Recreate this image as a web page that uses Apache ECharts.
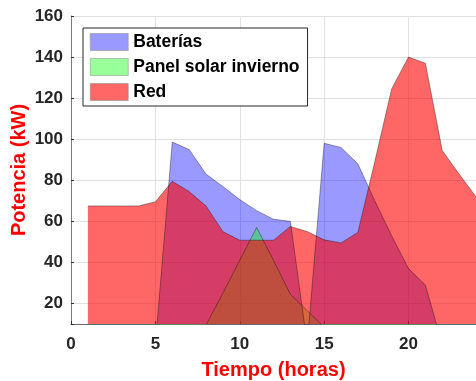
<!DOCTYPE html>
<html>
<head>
<meta charset="utf-8">
<script src="https://cdn.jsdelivr.net/npm/echarts@6/dist/echarts.min.js"></script>
<style>
html,body{margin:0;padding:0;background:#fff;}
#c{width:476px;height:381px;}
</style>
</head>
<body>
<div id="c"></div>
<script>
// Hours (x values)
const hours = [1,2,3,4,5,6,7,8,9,10,11,12,13,14,15,16,17,18,19,20,21,22,23,24];
// Series values (kW)
const baterias = [0,0,0,0,0,98.6,95,83,77,70.6,65.2,61,60,0,98,96,88,70,53,37,29,0,0,0];
const panelSolar = [0,0,0,0,0,0,0,9.5,25,41,57,41,24.5,16.5,8.5,0,0,0,0,0,0,0,0,0];
const red = [67.5,67.5,67.5,67.5,69.5,79.5,74.5,67.5,55,50.8,50.8,50.8,57.5,55,51,49.5,54.6,89,124.5,140,137,94.5,83,72];
const seriesNames = ['Baterías','Panel solar invierno','Red'];
const xTicks = [0,5,10,15,20];
const yTicks = [20,40,60,80,100,120,140,160];

const pairs = arr => hours.map((h,i)=>[h,arr[i]]);
const edge = {color:'rgba(0,0,0,0.45)', width:0.8};
const chart = echarts.init(document.getElementById('c'), null, {renderer:'canvas'});
const mk = (name, data, fill, legendColor) => ({
  name, type:'line', data: pairs(data), symbol:'none', showSymbol:false,
  lineStyle: edge, itemStyle:{color:legendColor},
  areaStyle:{color:fill, opacity:1}, clip:true, animation:false
});
chart.setOption({
  animation:false,
  grid:{left:71, right:0, top:16, bottom:57, containLabel:false, outerBoundsMode:'none'},
  legend:{
    orient:'vertical', left:83, top:28, icon:'rect',
    itemWidth:38, itemHeight:17, itemGap:7,
    padding:[5,8,5,7],
    backgroundColor:'#fff', borderColor:'#262626', borderWidth:1,
    textStyle:{fontFamily:'Liberation Sans, Arial, sans-serif', fontWeight:'bold', fontSize:17.5, color:'#000'},
    data:[
      {name:seriesNames[0], itemStyle:{color:'#9999ff', borderColor:'#888', borderWidth:0.5}},
      {name:seriesNames[1], itemStyle:{color:'#99ff99', borderColor:'#888', borderWidth:0.5}},
      {name:seriesNames[2], itemStyle:{color:'#ff6666', borderColor:'#888', borderWidth:0.5}}
    ]
  },
  xAxis:{
    type:'value', min:0, max:24, interval:5,
    name:'Tiempo (horas)', nameLocation:'middle', nameGap:36, nameMoveOverlap:false,
    nameTextStyle:{color:'#ff0000', fontWeight:'bold', fontSize:20, fontFamily:'Liberation Sans, Arial, sans-serif'},
    axisLine:{show:true, lineStyle:{color:'#6a6a6a', width:1}},
    axisTick:{show:true, inside:true, length:3, lineStyle:{color:'#333'}},
    axisLabel:{showMaxLabel:false, margin:12, color:'#262626', fontWeight:'bold', fontSize:17, fontFamily:'Liberation Sans, Arial, sans-serif',
      formatter: v => xTicks.includes(v) ? String(v) : ''},
    splitLine:{show:true, lineStyle:{color:'#e0e0e0', width:1}}
  },
  yAxis:{
    type:'value', min:10, max:160, splitNumber:7, minInterval:20, maxInterval:20,
    name:'Potencia (kW)', nameLocation:'middle', nameGap:42, nameMoveOverlap:false,
    nameTextStyle:{color:'#ff0000', fontWeight:'bold', fontSize:20, fontFamily:'Liberation Sans, Arial, sans-serif'},
    axisLine:{show:true, lineStyle:{color:'#7a7a7a', width:1}},
    axisTick:{show:true, inside:true, length:3, lineStyle:{color:'#333'}},
    axisLabel:{margin:8, color:'#262626', fontWeight:'bold', fontSize:17, fontFamily:'Liberation Sans, Arial, sans-serif',
      formatter: v => yTicks.includes(v) ? String(v) : ''},
    splitLine:{show:true, lineStyle:{color:'#e0e0e0', width:1}}
  },
  series:[
    mk(seriesNames[0], baterias, 'rgba(0,0,255,0.4)', '#9999ff'),
    mk(seriesNames[1], panelSolar, 'rgba(0,255,0,0.4)', '#99ff99'),
    mk(seriesNames[2], red, 'rgba(255,0,0,0.6)', '#ff6666')
  ]
});
</script>
</body>
</html>
